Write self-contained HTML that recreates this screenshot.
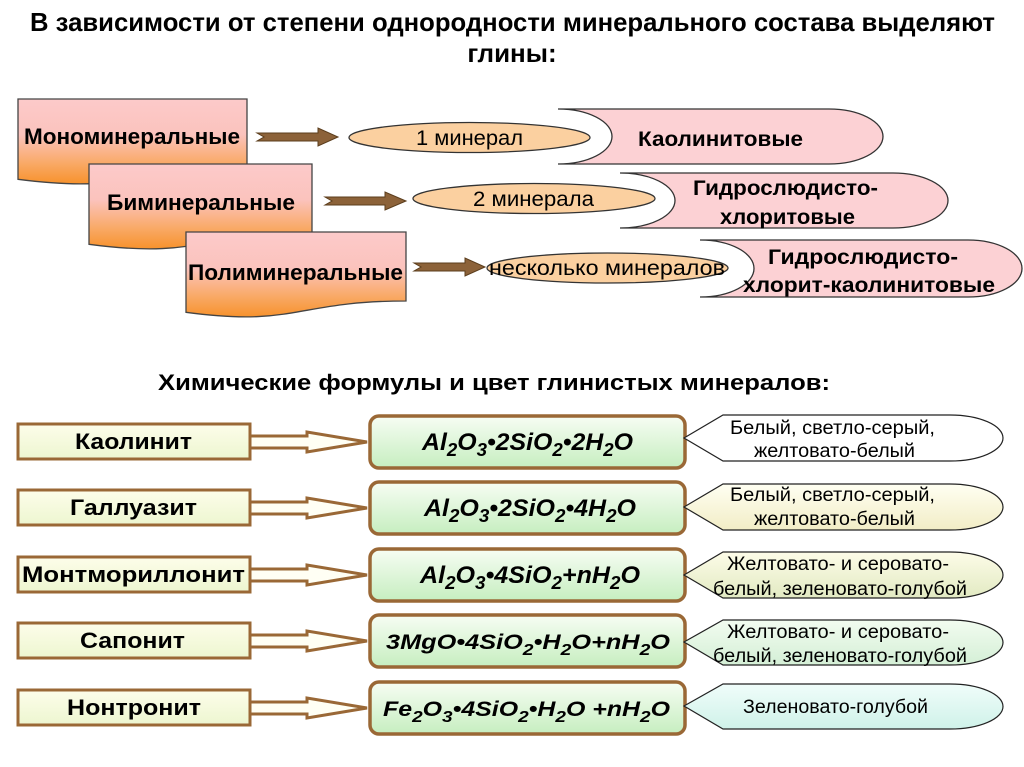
<!DOCTYPE html>
<html><head><meta charset="utf-8"><style>
html,body{margin:0;padding:0;background:#fff;}
svg{display:block;}
text{font-family:"Liberation Sans","DejaVu Sans",sans-serif;fill:#000;}
.b{font-weight:bold;}
</style></head><body>
<svg width="1024" height="767" viewBox="0 0 1024 767" xmlns="http://www.w3.org/2000/svg">
<defs>
<linearGradient id="gdoc" x1="0" y1="0" x2="0" y2="1">
<stop offset="0" stop-color="#fccaca"/><stop offset="0.42" stop-color="#fbc3bd"/><stop offset="0.75" stop-color="#f9aa68"/><stop offset="1" stop-color="#f7922c"/>
</linearGradient>
<linearGradient id="gleft" x1="0" y1="0" x2="0" y2="1">
<stop offset="0" stop-color="#fdfdea"/><stop offset="1" stop-color="#edf6d0"/>
</linearGradient>
<linearGradient id="gform" x1="0" y1="0" x2="0" y2="1">
<stop offset="0" stop-color="#f7fdf4"/><stop offset="1" stop-color="#c6eec0"/>
</linearGradient>
<linearGradient id="gc2" x1="0" y1="0" x2="0" y2="1">
<stop offset="0" stop-color="#fffff2"/><stop offset="1" stop-color="#f2edc6"/>
</linearGradient>
<linearGradient id="gc3" x1="0" y1="0" x2="0" y2="1">
<stop offset="0" stop-color="#fdfce8"/><stop offset="1" stop-color="#e2eac2"/>
</linearGradient>
<linearGradient id="gc4" x1="0" y1="0" x2="0" y2="1">
<stop offset="0" stop-color="#f2fcf0"/><stop offset="1" stop-color="#d4efd6"/>
</linearGradient>
<linearGradient id="gc5" x1="0" y1="0" x2="0" y2="1">
<stop offset="0" stop-color="#f0fdfa"/><stop offset="1" stop-color="#cff2e9"/>
</linearGradient>
</defs>

<!-- Title -->
<text class="b" x="30" y="31" font-size="26" textLength="965" lengthAdjust="spacingAndGlyphs">В зависимости от степени однородности минерального состава выделяют</text>
<text class="b" x="512" y="62" font-size="26" text-anchor="middle">глины:</text>

<!-- Doc boxes -->
<path d="M18 99 H247 V168 C132.5 168 132.5 194.2 18 179.3 Z" fill="url(#gdoc)" stroke="#444" stroke-width="1.3"/>
<text class="b" x="24" y="144" font-size="22" textLength="216" lengthAdjust="spacingAndGlyphs">Мономинеральные</text>
<path d="M89 164 H312 V233 C200.5 233 200.5 259.2 89 244.3 Z" fill="url(#gdoc)" stroke="#444" stroke-width="1.3"/>
<text class="b" x="107" y="210" font-size="22" textLength="188" lengthAdjust="spacingAndGlyphs">Биминеральные</text>
<path d="M186 232 H406 V301 C296 301 296 327.2 186 312.3 Z" fill="url(#gdoc)" stroke="#444" stroke-width="1.3"/>
<text class="b" x="188" y="280" font-size="22" textLength="215" lengthAdjust="spacingAndGlyphs">Полиминеральные</text>

<!-- solid arrows -->
<path d="M257 133 H318 V128 L338 137 L318 146 V141 H257 L264 137 Z" fill="#8c6239" stroke="#5b3d1c" stroke-width="1"/>
<path d="M325 197 H385 V192 L406 201 L385 210 V205 H325 L332 201 Z" fill="#8c6239" stroke="#5b3d1c" stroke-width="1"/>
<path d="M414 263 H465 V258 L485 267 L465 276 V271 H414 L421 267 Z" fill="#8c6239" stroke="#5b3d1c" stroke-width="1"/>

<!-- pink stored-data shapes -->
<path d="M558 109 H829 A54 27.5 0 0 1 829 164 H558 A54 27.5 0 0 0 558 109 Z" fill="#fcd1d4" stroke="#333" stroke-width="1.3"/>
<text class="b" x="638" y="146" font-size="21" textLength="165" lengthAdjust="spacingAndGlyphs">Каолинитовые</text>
<path d="M620 173 H893 A55 27.5 0 0 1 893 228 H620 A55 27.5 0 0 0 620 173 Z" fill="#fcd1d4" stroke="#333" stroke-width="1.3"/>
<text class="b" x="693" y="195" font-size="21" textLength="185" lengthAdjust="spacingAndGlyphs">Гидрослюдисто-</text>
<text class="b" x="720" y="224" font-size="21" textLength="135" lengthAdjust="spacingAndGlyphs">хлоритовые</text>
<path d="M700 240 H968 A54 28.5 0 0 1 968 297 H700 A54 28.5 0 0 0 700 240 Z" fill="#fcd1d4" stroke="#333" stroke-width="1.3"/>

<!-- ellipses -->
<ellipse cx="469.5" cy="137.5" rx="120.5" ry="15" fill="#fbd0a0" stroke="#333" stroke-width="1.3"/>
<text x="416" y="145" font-size="21" textLength="107" lengthAdjust="spacingAndGlyphs">1 минерал</text>
<ellipse cx="534" cy="198.5" rx="121" ry="15" fill="#fbd0a0" stroke="#333" stroke-width="1.3"/>
<text x="473" y="206" font-size="21" textLength="121" lengthAdjust="spacingAndGlyphs">2 минерала</text>
<ellipse cx="607.5" cy="268" rx="120.5" ry="15" fill="#fbd0a0" stroke="#333" stroke-width="1.3"/>
<text x="489" y="275" font-size="21" textLength="236" lengthAdjust="spacingAndGlyphs">несколько минералов</text>

<text class="b" x="768" y="264" font-size="21" textLength="190" lengthAdjust="spacingAndGlyphs">Гидрослюдисто-</text>
<text class="b" x="743" y="292" font-size="21" textLength="252" lengthAdjust="spacingAndGlyphs">хлорит-каолинитовые</text>

<!-- Section 2 title -->
<text class="b" x="158" y="390" font-size="22" textLength="672" lengthAdjust="spacingAndGlyphs">Химические формулы и цвет глинистых минералов:</text>

<!-- hollow arrows -->
<g fill="#fffff4" stroke="#9a6836" stroke-width="3" stroke-linejoin="miter">
<path d="M250 436 H307 V432 L367 442 L307 452 V448 H250"/>
<path d="M250 502 H307 V498 L367 508 L307 518 V514 H250"/>
<path d="M250 569 H307 V565 L367 575 L307 585 V581 H250"/>
<path d="M250 635 H307 V631 L367 641 L307 651 V647 H250"/>
<path d="M250 702 H307 V698 L367 708 L307 718 V714 H250"/>
</g>

<!-- left boxes -->
<g fill="url(#gleft)" stroke="#9a6836" stroke-width="3">
<rect x="18" y="424" width="232" height="35"/>
<rect x="18" y="490" width="232" height="35"/>
<rect x="18" y="557" width="232" height="35"/>
<rect x="18" y="623" width="232" height="35"/>
<rect x="18" y="690" width="232" height="35"/>
</g>
<text class="b" x="75" y="449" font-size="22" textLength="117" lengthAdjust="spacingAndGlyphs">Каолинит</text>
<text class="b" x="70" y="515" font-size="22" textLength="127" lengthAdjust="spacingAndGlyphs">Галлуазит</text>
<text class="b" x="22" y="582" font-size="22" textLength="223" lengthAdjust="spacingAndGlyphs">Монтмориллонит</text>
<text class="b" x="80" y="648" font-size="22" textLength="105" lengthAdjust="spacingAndGlyphs">Сапонит</text>
<text class="b" x="67" y="715" font-size="22" textLength="134" lengthAdjust="spacingAndGlyphs">Нонтронит</text>

<!-- formula boxes -->
<g fill="url(#gform)" stroke="#9a6836" stroke-width="3.5">
<rect x="370" y="416" width="315" height="52" rx="9"/>
<rect x="370" y="482" width="315" height="52" rx="9"/>
<rect x="370" y="549" width="315" height="52" rx="9"/>
<rect x="370" y="615" width="315" height="52" rx="9"/>
<rect x="370" y="682" width="315" height="52" rx="9"/>
</g>
<g font-weight="bold" font-style="italic">
<text x="422" y="450" font-size="24" textLength="211" lengthAdjust="spacingAndGlyphs">Al<tspan dy="6" font-size="18">2</tspan><tspan dy="-6">O</tspan><tspan dy="6" font-size="18">3</tspan><tspan dy="-6">•2SiO</tspan><tspan dy="6" font-size="18">2</tspan><tspan dy="-6">•2H</tspan><tspan dy="6" font-size="18">2</tspan><tspan dy="-6">O</tspan></text>
<text x="424" y="516" font-size="24" textLength="212" lengthAdjust="spacingAndGlyphs">Al<tspan dy="6" font-size="18">2</tspan><tspan dy="-6">O</tspan><tspan dy="6" font-size="18">3</tspan><tspan dy="-6">•2SiO</tspan><tspan dy="6" font-size="18">2</tspan><tspan dy="-6">•4H</tspan><tspan dy="6" font-size="18">2</tspan><tspan dy="-6">O</tspan></text>
<text x="420" y="583" font-size="24" textLength="220" lengthAdjust="spacingAndGlyphs">Al<tspan dy="6" font-size="18">2</tspan><tspan dy="-6">O</tspan><tspan dy="6" font-size="18">3</tspan><tspan dy="-6">•4SiO</tspan><tspan dy="6" font-size="18">2</tspan><tspan dy="-6">+nH</tspan><tspan dy="6" font-size="18">2</tspan><tspan dy="-6">O</tspan></text>
<text x="386" y="649" font-size="21" textLength="284" lengthAdjust="spacingAndGlyphs">3MgO•4SiO<tspan dy="6" font-size="16">2</tspan><tspan dy="-6">•H</tspan><tspan dy="6" font-size="16">2</tspan><tspan dy="-6">O+nH</tspan><tspan dy="6" font-size="16">2</tspan><tspan dy="-6">O</tspan></text>
<text x="383" y="716" font-size="21" textLength="287" lengthAdjust="spacingAndGlyphs">Fe<tspan dy="6" font-size="16">2</tspan><tspan dy="-6">O</tspan><tspan dy="6" font-size="16">3</tspan><tspan dy="-6">•4SiO</tspan><tspan dy="6" font-size="16">2</tspan><tspan dy="-6">•H</tspan><tspan dy="6" font-size="16">2</tspan><tspan dy="-6">O +nH</tspan><tspan dy="6" font-size="16">2</tspan><tspan dy="-6">O</tspan></text>
</g>

<!-- callouts -->
<g stroke="#222" stroke-width="1.2">
<path d="M684 438 L723 415 H950 A53 23 0 0 1 950 461 H723 Z" fill="#ffffff"/>
<path d="M684 507 L723 484 H950 A53 23 0 0 1 950 530 H723 Z" fill="url(#gc2)"/>
<path d="M684 575 L723 552 H950 A53 23 0 0 1 950 598 H723 Z" fill="url(#gc3)"/>
<path d="M684 642 L723 620 H950 A53 22.5 0 0 1 950 665 H723 Z" fill="url(#gc4)"/>
<path d="M684 706 L723 684 H950 A53 22.5 0 0 1 950 729 H723 Z" fill="url(#gc5)"/>
</g>
<g font-size="19">
<text x="730" y="434" textLength="205" lengthAdjust="spacingAndGlyphs">Белый, светло-серый,</text>
<text x="754" y="457" textLength="161" lengthAdjust="spacingAndGlyphs">желтовато-белый</text>
<text x="730" y="501" textLength="205" lengthAdjust="spacingAndGlyphs">Белый, светло-серый,</text>
<text x="754" y="525" textLength="161" lengthAdjust="spacingAndGlyphs">желтовато-белый</text>
<text x="727" y="570" textLength="222" lengthAdjust="spacingAndGlyphs">Желтовато- и серовато-</text>
<text x="713" y="595" textLength="254" lengthAdjust="spacingAndGlyphs">белый, зеленовато-голубой</text>
<text x="727" y="638" textLength="222" lengthAdjust="spacingAndGlyphs">Желтовато- и серовато-</text>
<text x="713" y="662" textLength="254" lengthAdjust="spacingAndGlyphs">белый, зеленовато-голубой</text>
<text x="743" y="713" textLength="185" lengthAdjust="spacingAndGlyphs">Зеленовато-голубой</text>
</g>
</svg>
</body></html>
